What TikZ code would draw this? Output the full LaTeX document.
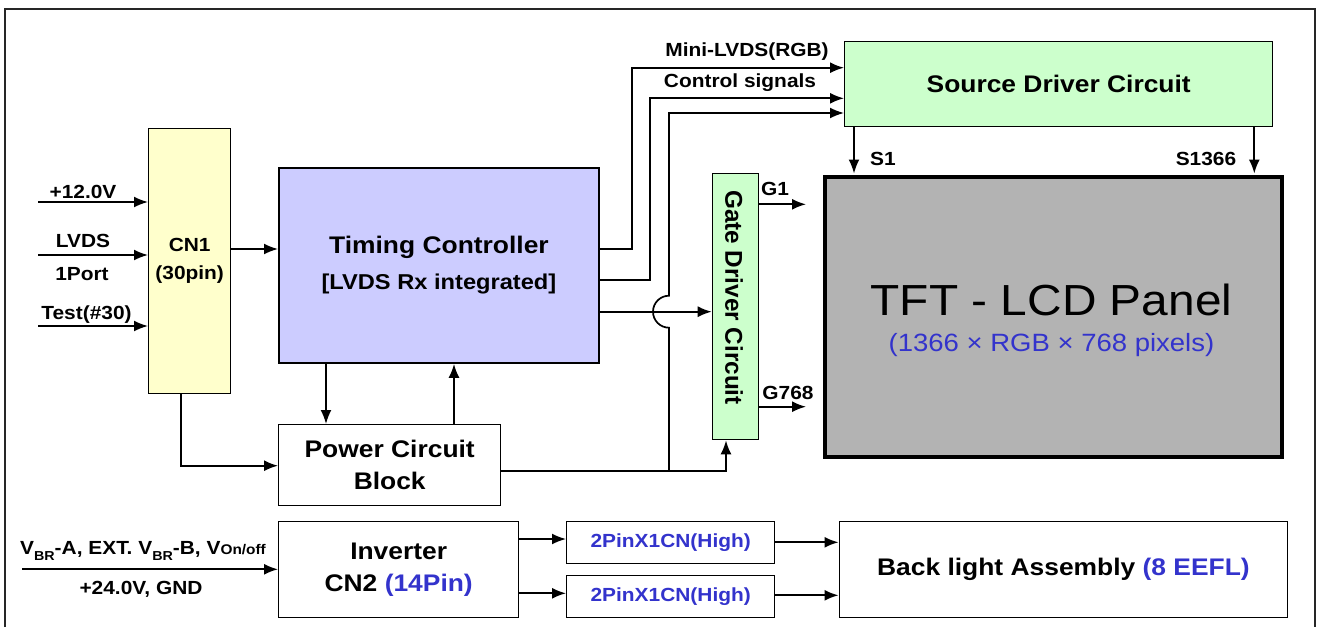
\documentclass[tikz,border=0pt]{standalone}
\usepackage{fontspec}
\setmainfont{Liberation Sans}[FakeStretch=1.1]
\newfontfamily\gatefont{Liberation Sans}
\usetikzlibrary{arrows.meta}
\definecolor{cnyellow}{HTML}{FFFFCC}
\definecolor{tclav}{HTML}{CCCCFF}
\definecolor{drvgreen}{HTML}{CCFFCC}
\definecolor{panelgray}{HTML}{B3B3B3}
\definecolor{tblue}{HTML}{3333CC}
\newcommand{\subBR}{\raisebox{-0.3em}{\fontsize{13}{13}\selectfont BR}}
\newcommand{\fsz}[1]{\fontsize{#1}{#1}\selectfont}
\begin{document}
\begin{tikzpicture}[x=1pt,y=-1pt,
  box/.style={draw, line width=1.4pt, inner sep=0pt, anchor=north west, align=center, font=\bfseries\fsz{24}},
  lbl/.style={inner sep=0pt, font=\bfseries\fsz{19}},
  arr/.style={line width=1.7pt, -{Latex[length=14pt,width=11pt]}}]
\useasboundingbox (0,0) rectangle (1318,627);
% outer frame
\draw[line width=1.6pt, black!85] (5,627) -- (5,9) -- (1315,9) -- (1315,627);

% boxes
\node[box, fill=cnyellow, minimum width=82pt, minimum height=265pt, font=\bfseries\fsz{19}] (cn1) at (148,128)
  {CN1\\[9pt](30pin)};
\node[box, fill=tclav, line width=1.9pt, minimum width=320pt, minimum height=195pt] (tc) at (278,167)
  {Timing Controller\\[12pt]{\fsz{21.5}[LVDS Rx integrated]}};
\node[box, minimum width=222pt, minimum height=81pt] (pwr) at (278,424)
  {Power Circuit\\[8pt]Block};
\node[box, minimum width=240pt, minimum height=96pt] (inv) at (278,521)
  {Inverter\\[8pt]CN2 \textcolor{tblue}{(14Pin)}};
\node[box, minimum width=208pt, minimum height=42pt, font=\bfseries\fsz{19}, text=tblue] (pinA) at (566,521) {2PinX1CN(High)};
\node[box, minimum width=208pt, minimum height=42pt, font=\bfseries\fsz{19}, text=tblue] (pinB) at (566,575) {2PinX1CN(High)};
\node[box, minimum width=448.5pt, minimum height=96pt] (bl) at (838.5,521)
  {Back light Assembly \textcolor{tblue}{(8 EEFL)}};
\node[box, fill=drvgreen, minimum width=428pt, minimum height=85pt] (src) at (844,41)
  {Source Driver Circuit};
\node[box, fill=panelgray, line width=4pt, minimum width=457.5pt, minimum height=279.5pt] (panel) at (822.5,175) {};
\node[inner sep=0pt, font=\fsz{43.5}] (ptitle) at (1051.5,300) {TFT - LCD Panel};
\node[inner sep=0pt, font=\fsz{25}, text=tblue] (psub) at (1051.5,345) {(1366 × RGB × 768 pixels)};
\node[box, fill=drvgreen, minimum width=46.3pt, minimum height=266pt] (gate) at (711.7,173) {};
\node[inner sep=0pt, rotate=-90, font=\gatefont\bfseries\fsz{24.3}] (gtext) at (734,297.5) {Gate Driver Circuit};

% input labels
\node[lbl] (l12) at (83,191.5) {+12.0V};
\node[lbl] (llvds) at (83,241) {LVDS};
\node[lbl] (lport) at (82,274.5) {1Port};
\node[lbl] (ltest) at (86.5,315) {Test(\#30)};
\node[lbl] (lvbr) at (143,551) {V\subBR-A, EXT. V\subBR-B, V{\fsz{14}On/off}};
\node[lbl] (l24) at (141,589) {+24.0V, GND};
\node[lbl] (lmini) at (747,51.5) {Mini-LVDS(RGB)};
\node[lbl] (lctrl) at (740,83) {Control signals};
\node[lbl] (ls1) at (883,159) {S1};
\node[lbl] (ls1366) at (1206,159) {S1366};
\node[lbl] (lg1) at (775,189) {G1};
\node[lbl] (lg768) at (788,393) {G768};

% input arrows
\coordinate (i12) at (38,202);
\coordinate (ilvds) at (38,255);
\coordinate (itest) at (38,326);
\coordinate (ivbr) at (22,569.3);
\draw[arr] (i12) -- (i12 -| cn1.west);
\draw[arr] (ilvds) -- (ilvds -| cn1.west);
\draw[arr] (itest) -- (itest -| cn1.west);
\draw[arr] (ivbr) -- (ivbr -| inv.west);

% CN1 -> TC
\draw[arr] (cn1.east |- 0,249) -- (tc.west |- 0,249);
% TC -> source driver
\draw[arr] (tc.east |- 0,249) -| (632,67.7) -- (src.west |- 0,67.7);
\draw[arr] (tc.east |- 0,280) -| (650,98.3) -- (src.west |- 0,98.3);
% TC -> gate driver
\draw[arr] (tc.east |- 0,311.7) -- (gate.west |- 0,311.7);
% TC <-> power
\draw[arr] (tc.south -| 326,0) -- (pwr.north -| 326,0);
\draw[arr] (pwr.north -| 454,0) -- (tc.south -| 454,0);
% CN1 -> power
\draw[arr] (cn1.south -| 181,0) |- (pwr.west |- 0,465.7);
% power -> gate driver
\draw[arr] (pwr.east |- 0,471) -| (gate.south -| 726,0);
% power -> source driver (with hop)
\coordinate (jn) at (669,471);
\draw[arr] (jn) -- (669,327.7) arc[start angle=90, end angle=270, radius=16] -- (669,113) -- (src.west |- 0,113);
% source -> panel
\draw[arr, shorten >=1.5pt] (src.south -| 854,0) -- (panel.north -| 854,0);
\draw[arr, shorten >=1.5pt] (src.south -| 1254.3,0) -- (panel.north -| 1254.3,0);
% gate -> panel
\coordinate (g1end) at (806,204.3);
\coordinate (g768end) at (806,406.7);
\draw[arr] (gate.east |- g1end) -- (g1end);
\draw[arr] (gate.east |- g768end) -- (g768end);
% inverter -> pins -> backlight
\draw[arr] (inv.east |- 0,539) -- (pinA.west |- 0,539);
\draw[arr] (inv.east |- 0,593.3) -- (pinB.west |- 0,593.3);
\draw[arr] (pinA.east |- 0,542.3) -- (bl.west |- 0,542.3);
\draw[arr] (pinB.east |- 0,595.3) -- (bl.west |- 0,595.3);
\end{tikzpicture}
\end{document}
